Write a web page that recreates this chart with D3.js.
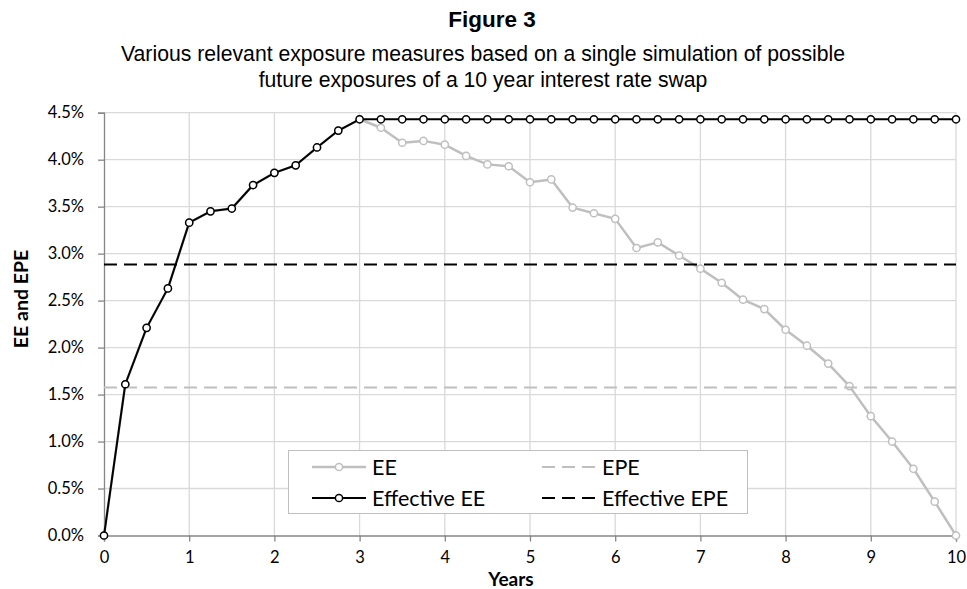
<!DOCTYPE html>
<html>
<head>
<meta charset="utf-8">
<script src="https://cdn.jsdelivr.net/npm/d3@7"></script>
<style>
  html, body { margin: 0; padding: 0; background: #fff; }
  svg { display: block; }
</style>
</head>
<body>
<svg id="chart" width="967" height="589"></svg>
<script>
// ---- data ----
const years = [0, 0.25, 0.5, 0.75, 1, 1.25, 1.5, 1.75, 2, 2.25, 2.5, 2.75, 3, 3.25, 3.5, 3.75, 4, 4.25, 4.5, 4.75, 5, 5.25, 5.5, 5.75, 6, 6.25, 6.5, 6.75, 7, 7.25, 7.5, 7.75, 8, 8.25, 8.5, 8.75, 9, 9.25, 9.5, 9.75, 10];
const eeValues = [0, 1.61, 2.21, 2.63, 3.33, 3.45, 3.48, 3.73, 3.86, 3.94, 4.13, 4.31, 4.43, 4.34, 4.18, 4.20, 4.16, 4.04, 3.95, 3.93, 3.76, 3.79, 3.49, 3.43, 3.37, 3.06, 3.12, 2.98, 2.84, 2.69, 2.51, 2.41, 2.19, 2.02, 1.83, 1.59, 1.27, 1.00, 0.71, 0.36, 0];
const effectiveEEValues = [0, 1.61, 2.21, 2.63, 3.33, 3.45, 3.48, 3.73, 3.86, 3.94, 4.13, 4.31, 4.43, 4.43, 4.43, 4.43, 4.43, 4.43, 4.43, 4.43, 4.43, 4.43, 4.43, 4.43, 4.43, 4.43, 4.43, 4.43, 4.43, 4.43, 4.43, 4.43, 4.43, 4.43, 4.43, 4.43, 4.43, 4.43, 4.43, 4.43, 4.43];
const epeValue = 1.575;
const effectiveEpeValue = 2.885;
const xTicks = [0, 1, 2, 3, 4, 5, 6, 7, 8, 9, 10];
const yTicks = [0, 0.5, 1.0, 1.5, 2.0, 2.5, 3.0, 3.5, 4.0, 4.5];
const seriesNames = ["EE", "EPE", "Effective EE", "Effective EPE"];
const titleText = "Figure 3";
const subtitleLines = ["Various relevant exposure measures based on a single simulation of possible", "future exposures of a 10 year interest rate swap"];
const xTitle = "Years";
const yTitle = "EE and EPE";

// ---- layout ----
const svg = d3.select("#chart");
const x = d3.scaleLinear().domain([0, 10]).range([104, 956]);
const y = d3.scaleLinear().domain([0, 4.5]).range([535.5, 112.7]);
const GRAY = "#bfbfbf", GRID = "#d9d9d9", AXIS = "#868686";
const tickFont = "Lato, 'Open Sans', sans-serif";

// titles
svg.append("text").attr("x", 492).attr("y", 27).attr("text-anchor", "middle")
  .attr("font-family", "'Liberation Sans', Arial, sans-serif").attr("font-weight", "bold")
  .attr("font-size", 22.5).attr("fill", "#000").text(titleText);
svg.selectAll("text.sub").data(subtitleLines).enter().append("text").attr("class", "sub")
  .attr("x", 483).attr("y", (d, i) => 61 + i * 26).attr("text-anchor", "middle")
  .attr("font-family", "'Liberation Sans', Arial, sans-serif")
  .attr("font-size", 21.2).attr("fill", "#000").text(d => d);

// gridlines
const grid = svg.append("g");
grid.selectAll("line.h").data(yTicks.slice(1)).enter().append("line")
  .attr("x1", x(0)).attr("x2", x(10)).attr("y1", d => y(d)).attr("y2", d => y(d))
  .attr("stroke", GRID).attr("stroke-width", 1.3);
grid.selectAll("line.v").data(xTicks.slice(1)).enter().append("line")
  .attr("x1", d => x(d)).attr("x2", d => x(d)).attr("y1", y(0)).attr("y2", y(4.5))
  .attr("stroke", GRID).attr("stroke-width", 1.3);

// axes
const xAxis = d3.axisBottom(x).tickValues(xTicks).tickSize(6).tickPadding(10).tickFormat(d3.format("d"));
const gx = svg.append("g").attr("transform", `translate(0,${y(0)})`).call(xAxis);
const yAxis = d3.axisLeft(y).tickValues(yTicks).tickSize(6).tickPadding(14).tickFormat(d => d.toFixed(1) + "%");
const gy = svg.append("g").attr("transform", `translate(${x(0)},0)`).call(yAxis);
[gx, gy].forEach(g => {
  g.select(".domain").attr("stroke", AXIS).attr("stroke-width", 1.3);
  g.selectAll(".tick line").attr("stroke", AXIS).attr("stroke-width", 1.3);
  g.selectAll(".tick text").attr("font-family", tickFont).attr("font-size", 16.5).attr("fill", "#000");
});

// axis titles
svg.append("text").attr("x", 511).attr("y", 586).attr("text-anchor", "middle")
  .attr("font-family", tickFont).attr("font-weight", "bold").attr("font-size", 19).text(xTitle);
svg.append("text").attr("transform", "translate(28,299) rotate(-90)").attr("text-anchor", "middle")
  .attr("font-family", tickFont).attr("font-weight", "bold").attr("font-size", 19.5).text(yTitle);

// series
const line = d3.line().x(d => x(d[0])).y(d => y(d[1]));
const eeData = years.map((t, i) => [t, eeValues[i]]);
const effData = years.map((t, i) => [t, effectiveEEValues[i]]);

function drawSeries(data, color, width) {
  const g = svg.append("g");
  g.append("path").datum(data).attr("d", line).attr("fill", "none")
    .attr("stroke", color).attr("stroke-width", width).attr("stroke-linejoin", "round");
  g.selectAll("circle").data(data).enter().append("circle")
    .attr("cx", d => x(d[0])).attr("cy", d => y(d[1])).attr("r", 3.6)
    .attr("fill", "#fff").attr("stroke", color).attr("stroke-width", 1.5);
}
function drawFlat(v, color) {
  svg.append("line").attr("x1", x(0)).attr("x2", x(10)).attr("y1", y(v)).attr("y2", y(v))
    .attr("stroke", color).attr("stroke-width", 2).attr("stroke-dasharray", "13,7");
}
drawSeries(eeData, GRAY, 2.5);
drawFlat(epeValue, GRAY);
drawSeries(effData, "#000", 2);
drawFlat(effectiveEpeValue, "#000");

// legend
const lg = svg.append("g");
lg.append("rect").attr("x", 288.5).attr("y", 450.5).attr("width", 459).attr("height", 63)
  .attr("fill", "#fff").attr("stroke", "#bfbfbf").attr("stroke-width", 1);
const legendItems = [
  { name: seriesNames[0], color: GRAY, w: 2.5, dash: null, marker: true, lx: 312, ly: 467 },
  { name: seriesNames[1], color: GRAY, w: 2, dash: "13,7", marker: false, lx: 542, ly: 467 },
  { name: seriesNames[2], color: "#000", w: 2, dash: null, marker: true, lx: 312, ly: 498 },
  { name: seriesNames[3], color: "#000", w: 2, dash: "13,7", marker: false, lx: 542, ly: 498 }
];
legendItems.forEach(it => {
  const l = lg.append("line").attr("x1", it.lx).attr("x2", it.lx + 54).attr("y1", it.ly).attr("y2", it.ly)
    .attr("stroke", it.color).attr("stroke-width", it.w);
  if (it.dash) l.attr("stroke-dasharray", it.dash);
  if (it.marker) lg.append("circle").attr("cx", it.lx + 27).attr("cy", it.ly).attr("r", 3.6)
    .attr("fill", "#fff").attr("stroke", it.color).attr("stroke-width", 1.5);
  lg.append("text").attr("x", it.lx + 60).attr("y", it.ly).attr("dy", "0.35em")
    .attr("font-family", tickFont).attr("font-size", 21.5).attr("fill", "#000").text(it.name);
});
</script>
</body>
</html>
